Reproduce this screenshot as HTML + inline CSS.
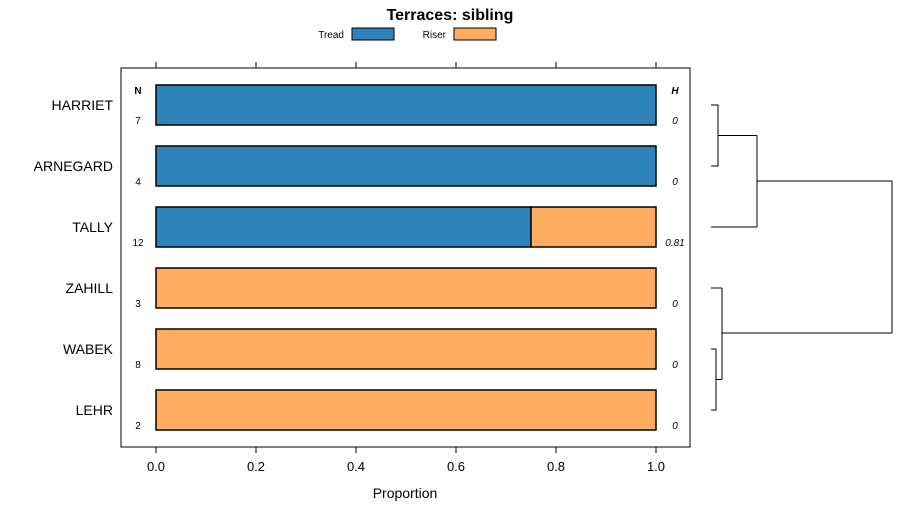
<!DOCTYPE html>
<html><head><meta charset="utf-8"><style>
body{margin:0;background:#fff;}
svg{display:block;font-family:"Liberation Sans",sans-serif;}
</style></head><body>
<svg id="c" width="900" height="520">
<text x="450" y="20" text-anchor="middle" font-size="16" font-weight="bold">Terraces: sibling</text>
<g>
<text x="344" y="38" text-anchor="end" font-size="10">Tread</text>
<rect x="352" y="28" width="42" height="12" fill="#2e84ba" stroke="#000"/>
<text x="446" y="38" text-anchor="end" font-size="10">Riser</text>
<rect x="454" y="28" width="42" height="12" fill="#fdac60" stroke="#000"/>
</g>
<rect x="121" y="68" width="569" height="379" fill="none" stroke="#000"/>
<g id="bars"></g>
<g id="axes"></g>
<g id="dend" stroke="#000" fill="none">
<path d="M711 105H718V166H711M718 135.5H757M711 227H757M757 135.5V227M757 181H892V333M711 288H722M711 349H716V410H711M716 379.5H722M722 288V379.5M722 333H892"/>
</g>
<text x="405" y="498" text-anchor="middle" font-size="14">Proportion</text>
<text x="138" y="94" text-anchor="middle" font-size="10" font-weight="bold">N</text>
<text x="675" y="94" text-anchor="middle" font-size="10" font-weight="bold" font-style="italic">H</text>
</svg>
<script>
const categories=["HARRIET","ARNEGARD","TALLY","ZAHILL","WABEK","LEHR"];
const tread=[1,1,0.75,0,0,0];
const riser=[0,0,0.25,1,1,1];
const nVals=["7","4","12","3","8","2"];
const hVals=["0","0","0.81","0","0","0"];
const ticks=[0,0.2,0.4,0.6,0.8,1.0];
const NS="http://www.w3.org/2000/svg";
const x=v=>156+v*500;
const y=i=>85+i*61;
function mk(t,a,p){const e=document.createElementNS(NS,t);for(const k in a)e.setAttribute(k,a[k]);p.appendChild(e);return e;}
const B=document.getElementById('bars'),A=document.getElementById('axes');
categories.forEach((c,i)=>{
 const r1=mk('rect',{x:x(0),y:y(i),width:x(tread[i])-x(0),height:40,fill:'#2e84ba',stroke:'#000','stroke-width':1.5},B);
 
 
 const r2=mk('rect',{x:x(tread[i]),y:y(i),width:x(tread[i]+riser[i])-x(tread[i]),height:40,fill:'#fdac60',stroke:'#000','stroke-width':1.5},B);
 
 
 const l=mk('text',{x:113,y:y(i)+25,'text-anchor':'end','font-size':14},A);l.textContent=c;
 
 
 const n=mk('text',{x:138,y:y(i)+39,'text-anchor':'middle','font-size':10},A);n.textContent=nVals[i];
 
 
 const h=mk('text',{x:675,y:y(i)+39,'text-anchor':'middle','font-size':10,'font-style':'italic'},A);h.textContent=hVals[i];
 
 
});
ticks.forEach(t=>{
 const a=mk('line',{x1:x(t),x2:x(t),y1:447,y2:453,stroke:'#000'},A);
 
 
 const b=mk('line',{x1:x(t),x2:x(t),y1:62,y2:68,stroke:'#000'},A);
 
 
 const l=mk('text',{x:x(t),y:471,'text-anchor':'middle','font-size':13},A);l.textContent=t.toFixed(1);
 
 
});
</script>
</body></html>
